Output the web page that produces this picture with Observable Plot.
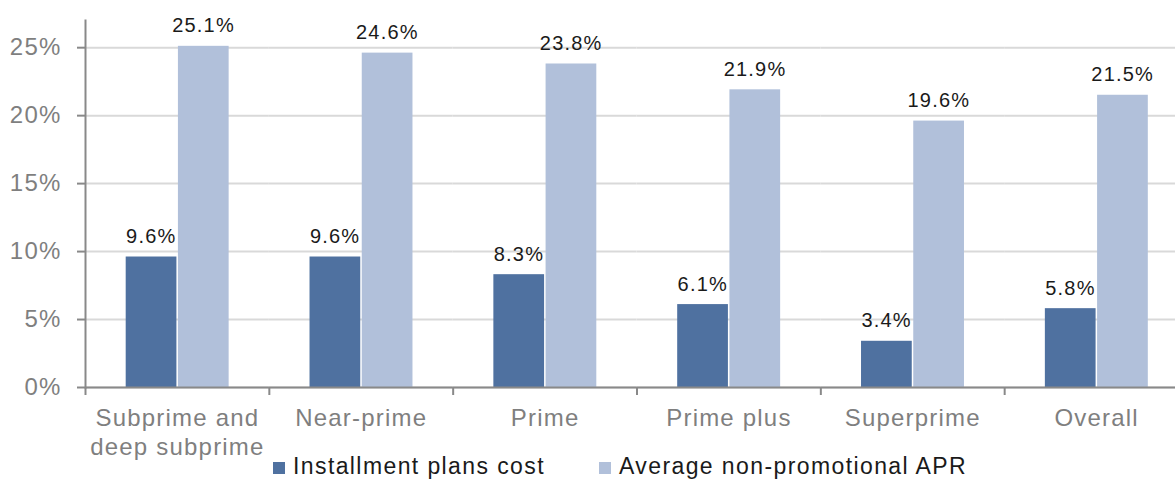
<!DOCTYPE html>
<html>
<head>
<meta charset="utf-8">
<script src="https://cdn.jsdelivr.net/npm/d3@7"></script>
<script src="https://cdn.jsdelivr.net/npm/@observablehq/plot@0.6"></script>
<style>
  html, body { margin: 0; padding: 0; background: #fff; overflow: hidden; }
  #wrap { position: relative; width: 1175px; height: 483px; }
  #chart svg text { letter-spacing: 1.2px; }
  #legend {
    position: absolute; left: 273px; top: 452px;
    display: flex; align-items: baseline;
    font-family: "Liberation Sans", Arial, sans-serif; font-size: 23px;
    letter-spacing: 1.4px; color: #1a1a1a; line-height: 28px; white-space: nowrap;
  }
  #legend .item { display: flex; align-items: baseline; margin-right: 54px; }
  #legend .sw { display: inline-block; width: 12px; height: 12px; margin-right: 8px; }
</style>
</head>
<body>
<div id="wrap">
  <div id="chart"></div>
  <div id="legend"></div>
</div>
<script>
const categories = ["Subprime and\ndeep subprime", "Near-prime", "Prime", "Prime plus", "Superprime", "Overall"];
const series = ["Installment plans cost", "Average non-promotional APR"];
const installmentCost = [9.6, 9.6, 8.3, 6.1, 3.4, 5.8];
const avgApr = [25.1, 24.6, 23.8, 21.9, 19.6, 21.5];
const seriesColors = ["#4f71a0", "#b1c0da"];
const yTicks = [0, 5, 10, 15, 20, 25];

const data = categories.flatMap((c, i) => [
  {category: c, series: series[0], value: installmentCost[i]},
  {category: c, series: series[1], value: avgApr[i]}
]);

const W = 1175, H = 483, mL = 85, mR = -13, mT = 20, mB = 96;
const facetStep = (W - mL - mR) / categories.length;

const chart = Plot.plot({
  width: W, height: H,
  marginLeft: mL, marginRight: mR, marginTop: mT, marginBottom: mB,
  style: {fontFamily: "'Liberation Sans', Arial, sans-serif", background: "white", overflow: "visible"},
  fx: {domain: categories, padding: 0, axis: null, label: null, round: false},
  x: {domain: series, paddingInner: 0, paddingOuter: 0.76, axis: null, round: false},
  y: {domain: [0, 27], axis: null},
  color: {domain: series, range: seriesColors},
  marks: [
    Plot.gridY(yTicks, {stroke: "#d9d9d9", strokeOpacity: 1, strokeWidth: 2}),
    Plot.barY(data, {fx: "category", x: "series", y: "value", fill: "series", insetLeft: 1, insetRight: 0.5}),
    Plot.ruleY([0], {stroke: "#898989", strokeWidth: 2}),
    Plot.frame({anchor: "left", facetAnchor: "left", stroke: "#898989", strokeWidth: 2}),
    Plot.axisY(yTicks, {tickFormat: d => d + "%", tickSize: 8, tickPadding: 16, fontSize: 24, fill: "#7f7f7f", stroke: "#898989", strokeWidth: 2, label: null}),
    Plot.axisFx({anchor: "bottom", tickSize: 0, tickPadding: 18, fontSize: 24, lineHeight: 1.2, fill: "#7f7f7f", label: null}),
    Plot.axisFx({anchor: "bottom", tickSize: 8, tickFormat: () => "", dx: -facetStep / 2, stroke: "#898989", strokeWidth: 2, label: null}),
    Plot.text(data, {fx: "category", x: "series", y: "value", text: d => d.value.toFixed(1) + "%", lineAnchor: "bottom", dy: -14, fontSize: 20, fill: "#1a1a1a"})
  ]
});
document.getElementById("chart").appendChild(chart);

const legend = document.getElementById("legend");
series.forEach((s, i) => {
  const item = document.createElement("span");
  item.className = "item";
  const sw = document.createElement("span");
  sw.className = "sw";
  sw.style.background = seriesColors[i];
  item.appendChild(sw);
  item.appendChild(document.createTextNode(s));
  legend.appendChild(item);
});
</script>
</body>
</html>
